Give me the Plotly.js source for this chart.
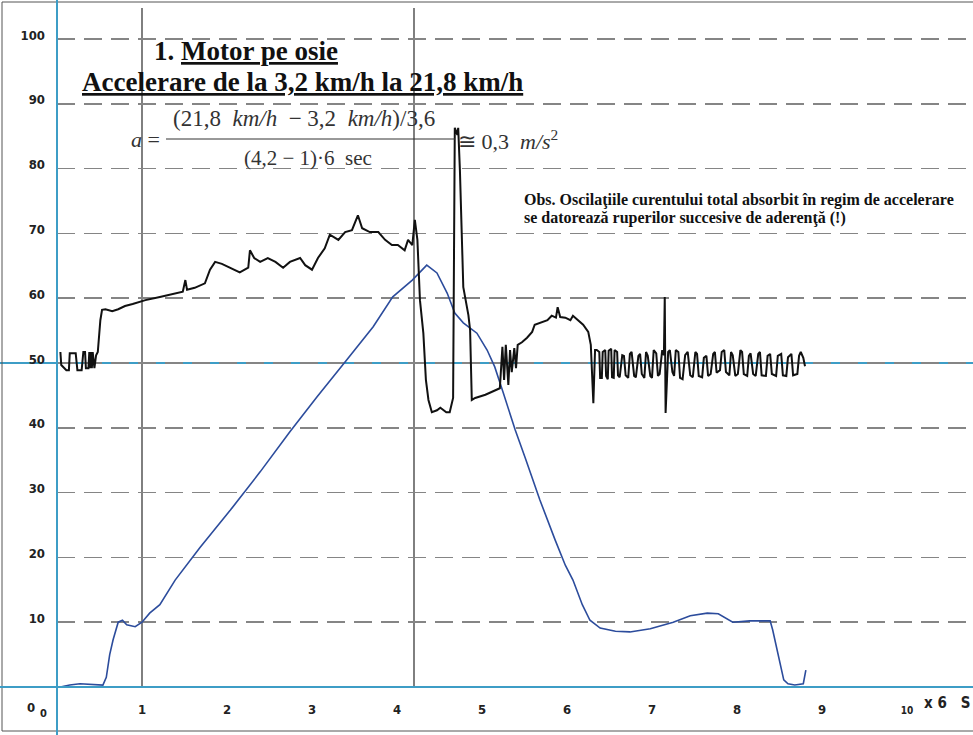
<!DOCTYPE html>
<html>
<head>
<meta charset="utf-8">
<script src="https://cdn.plot.ly/plotly-3.0.1.min.js"></script>
<style>
html,body{margin:0;padding:0;background:#fff;}
#chart{width:973px;height:735px;}
</style>
</head>
<body>
<div id="chart"></div>
<script>
// ---- data (time in units of 6 s, values in %) ----
var currentX = [0.04,0.05,0.11,0.14,0.15,0.22,0.24,0.29,0.31,0.33,0.34,0.37,0.38,0.39,0.40,0.41,0.42,0.44,0.46,0.48,
0.51,0.53,0.57,0.65,0.72,0.80,0.89,1.04,1.21,1.39,1.48,1.51,1.53,1.62,1.74,1.80,1.86,1.94,2.04,2.15,2.25,2.27,2.32,2.39,
2.48,2.57,2.66,2.74,2.86,2.92,3.00,3.07,3.15,3.21,3.31,3.39,3.47,3.54,3.59,3.68,3.78,3.86,3.94,4.01,4.09,4.13,4.18,4.21,
4.24,4.27,4.31,4.34,4.37,4.41,4.47,4.51,4.58,4.62,4.66,4.68,4.71,4.72,4.74,4.78,4.84,4.86,4.88,4.92,5.04,5.15,5.21,5.24,
5.26,5.28,5.31,5.33,5.35,5.38,5.40,5.42,5.47,5.53,5.59,5.62,5.71,5.77,5.82,5.87,5.89,5.92,5.98,6.04,6.07,6.13,6.19,6.25,
6.28,6.31,6.33,
6.35,6.38,6.39,6.41,6.42,6.45,6.46,6.48,6.49,6.52,6.53,6.55,6.56,6.59,6.60,6.62,6.65,6.67,6.69,6.72,6.74,6.76,6.79,6.81,
6.84,6.86,6.88,6.91,6.93,6.95,6.98,7.00,7.02,7.05,7.07,7.09,7.12,7.14,7.15,7.16,7.19,7.21,7.24,7.26,7.28,7.31,7.33,7.36,
7.39,7.42,7.45,7.48,7.51,7.53,7.55,7.59,7.61,7.64,7.66,7.69,7.72,7.74,7.76,7.80,7.82,7.85,7.87,7.91,7.93,7.95,7.98,8.01,
8.04,8.06,8.08,8.12,8.14,8.16,8.19,8.22,8.25,8.27,8.29,8.34,8.36,8.39,8.41,8.46,8.48,8.52,8.54,8.58,8.60,8.64,8.66,8.71,
8.73,8.75,8.78,8.80];
var currentY = [51.7,49.7,48.9,48.9,51.5,51.5,48.9,48.9,51.7,51.7,49.2,49.2,51.7,49.2,51.7,49.2,51.7,49.2,51.2,51.7,
56.6,58.2,58.3,58.0,58.3,58.8,59.1,59.7,60.2,60.8,61.0,62.8,61.3,61.6,62.3,64.4,65.6,65.3,64.7,64.0,64.7,67.4,66.2,65.6,
66.2,65.6,64.7,65.6,66.2,65.1,64.4,66.2,67.7,69.8,69.0,70.2,70.5,72.8,70.8,70.2,70.2,69.0,68.2,68.2,67.4,69.0,68.2,72.1,
69.0,59.7,54.6,47.4,44.3,42.4,42.7,43.1,42.4,42.4,44.6,86.3,85.2,86.3,79.8,61.7,57.4,55.1,44.3,44.6,45.1,45.8,46.1,52.5,
47.4,52.8,46.6,52.0,48.6,52.3,49.2,52.8,53.2,53.9,54.8,55.9,56.3,56.6,57.3,57.0,58.6,57.1,57.0,56.6,57.3,56.6,55.9,54.8,
52.8,43.8,52.0,
52.0,51.7,47.7,47.7,51.7,52.0,48.0,47.5,51.9,52.2,47.8,47.7,52.0,51.7,48.1,47.8,51.2,51.1,48.1,47.7,51.4,51.7,48.0,47.8,
51.1,51.4,48.3,47.7,51.7,51.1,48.0,47.7,52.0,51.5,48.0,48.3,52.0,51.2,60.2,42.3,51.7,52.0,48.6,48.0,52.0,51.7,47.7,47.5,
51.2,51.7,48.1,47.8,51.7,51.4,48.0,47.8,50.8,51.1,48.0,48.3,51.4,51.7,48.5,48.9,51.7,52.0,48.6,48.1,51.7,51.2,48.0,48.3,
52.0,51.7,48.3,48.0,51.1,51.5,48.3,48.0,51.4,51.7,48.1,48.0,51.1,51.4,48.3,48.0,51.1,51.4,48.1,48.0,50.9,51.4,48.1,48.3,
51.1,51.7,50.8,49.5];

var speedX = [0.04,0.15,0.27,0.39,0.54,0.58,0.62,0.66,0.72,0.77,0.82,0.92,1.00,1.09,1.21,1.39,1.68,2.04,2.39,2.74,3.06,
3.41,3.72,3.95,4.18,4.35,4.47,4.59,4.68,4.78,4.94,5.06,5.15,5.25,5.39,5.51,5.68,5.86,5.98,6.07,6.18,6.27,6.39,6.57,6.74,
6.98,7.25,7.45,7.65,7.78,7.88,7.95,8.15,8.39,8.42,8.47,8.51,8.55,8.60,8.68,8.78,8.81];
var speedY = [0.0,0.3,0.5,0.4,0.3,1.5,5.0,7.3,10.0,10.3,9.6,9.3,10.0,11.4,12.7,16.5,21.5,27.3,33.2,39.4,44.8,
50.5,55.6,60.2,62.8,65.1,63.9,60.8,57.7,56.2,54.6,52.0,49.4,45.4,39.7,35.3,28.9,22.7,18.8,16.5,12.7,10.3,9.1,8.6,8.5,
9.0,10.0,11.0,11.4,11.3,10.6,10.0,10.2,10.2,8.8,5.7,3.1,1.1,0.5,0.3,0.5,2.6];

var xTickVals = [1,2,3,4,5,6,7,8,9,10];
var xTickText = ['1','2','3','4','5','6','7','8','9','<span style="font-size:10px">10</span>'];
var yTickVals = [10,20,30,40,50,60,70,80,90,100];
var markerLines = [1, 4.2];

// ---- layout helpers ----
var W = 973, H = 735, ML = 57, MR = 0, MT = 8, MB = 48;
var PW = W - ML - MR, PH = H - MT - MB;
var xMax = PW / 85;      // 85 px per unit
var yMax = PH / 6.48;    // 6.48 px per unit
function px(p){ return (p - ML) / PW; }
function py(p){ return (H - MB - p) / PH; }

var blue = '#3d9dc6';
var serif = 'Liberation Serif, Times New Roman, serif';
var narrow = 'Liberation Sans Narrow, Arial Narrow, DejaVu Sans Condensed, sans-serif';

var shapes = [
  // image frame
  {type:'rect', xref:'paper', yref:'paper', x0:px(2), x1:px(975), y0:py(731), y1:py(2),
   line:{color:'#555', width:1}, layer:'above'},
  // blue axes
  {type:'line', xref:'paper', yref:'paper', x0:0, x1:0, y0:py(735), y1:py(0), line:{color:blue, width:2}, layer:'above'},
  {type:'line', xref:'paper', yref:'paper', x0:px(0), x1:1, y0:0, y1:0, line:{color:blue, width:2}, layer:'above'},
  {type:'line', xref:'paper', yref:'y', x0:px(0), x1:1, y0:50, y1:50, line:{color:blue, width:2}, layer:'between'},
  // fraction bar
  {type:'line', xref:'paper', yref:'paper', x0:px(166), x1:px(455), y0:py(139), y1:py(139), line:{color:'#333', width:1}}
];
markerLines.forEach(function(v){
  shapes.push({type:'line', xref:'x', yref:'paper', x0:v, x1:v, y0:0, y1:1, line:{color:'#2a2a2a', width:1.2}, layer:'between'});
});

var annotations = [
  {text:'<b>1. <u>Motor pe osie</u></b>', x:px(246), y:py(51), font:{family:serif, size:27, color:'#111'}},
  {text:'<b><u>Accelerare de la 3,2 km/h la 21,8 km/h</u></b>', x:px(302), y:py(82), font:{family:serif, size:27, color:'#111'}},
  {text:'<i>a</i> =', x:px(145), y:py(139), font:{family:serif, size:22, color:'#333'}},
  {text:'(21,8  <i>km/h</i>  − 3,2  <i>km/h</i>)/3,6', x:px(304), y:py(119), font:{family:serif, size:23, color:'#333'}},
  {text:'(4,2 − 1)·6  sec', x:px(308), y:py(158), font:{family:serif, size:21, color:'#333'}},
  {text:'≅ 0,3  <i>m/s</i><sup>2</sup>', x:px(456), y:py(140), xanchor:'left', font:{family:serif, size:22, color:'#333'}},
  {text:'<b>Obs. Oscilaţiile curentului total absorbit în regim de accelerare</b>', x:px(522), y:py(200), xanchor:'left', font:{family:serif, size:16, color:'#111'}},
  {text:'<b>se datorează ruperilor succesive de aderenţă (!)</b>', x:px(522), y:py(218), xanchor:'left', font:{family:serif, size:16, color:'#111'}},
  {text:'<b>0</b>', x:px(31), y:py(708), font:{family:narrow, size:13, color:'#222'}},
  {text:'<b>0</b>', x:px(43), y:py(713), font:{family:narrow, size:11, color:'#222'}},
  {text:'<b>x 6   S</b>', x:px(922), y:py(703), xanchor:'left', font:{family:narrow, size:15, color:'#222'}}
];
annotations.forEach(function(a){ a.xref='paper'; a.yref='paper'; a.showarrow=false; if(!a.xanchor) a.xanchor='center'; a.yanchor='middle'; });

var traces = [
  {x:speedX, y:speedY, type:'scatter', mode:'lines', line:{color:'#2c4c9c', width:1.6}, hoverinfo:'skip'},
  {x:currentX, y:currentY, type:'scatter', mode:'lines', line:{color:'#111', width:2}, hoverinfo:'skip'}
];

var layout = {
  width:W, height:H, showlegend:false,
  paper_bgcolor:'#fff', plot_bgcolor:'#fff',
  margin:{l:ML, r:MR, t:MT, b:MB, pad:0},
  xaxis:{range:[0, xMax], tickvals:xTickVals, ticktext:xTickText, showgrid:false, zeroline:false, showline:false,
         ticks:'', ticklabelstandoff:13, tickfont:{family:narrow, size:13, color:'#222', weight:'bold'}, fixedrange:true},
  yaxis:{range:[0, yMax], tickvals:yTickVals, showgrid:true, gridcolor:'#858585', gridwidth:1.5, griddash:'18px,9px',
         zeroline:false, showline:false, ticks:'', ticklabelstandoff:11, ticklabelshift:-4,
         tickfont:{family:narrow, size:13, color:'#222', weight:'bold'}, fixedrange:true},
  shapes:shapes, annotations:annotations
};

Plotly.newPlot('chart', traces, layout, {displayModeBar:false, staticPlot:true});
</script>
</body>
</html>
